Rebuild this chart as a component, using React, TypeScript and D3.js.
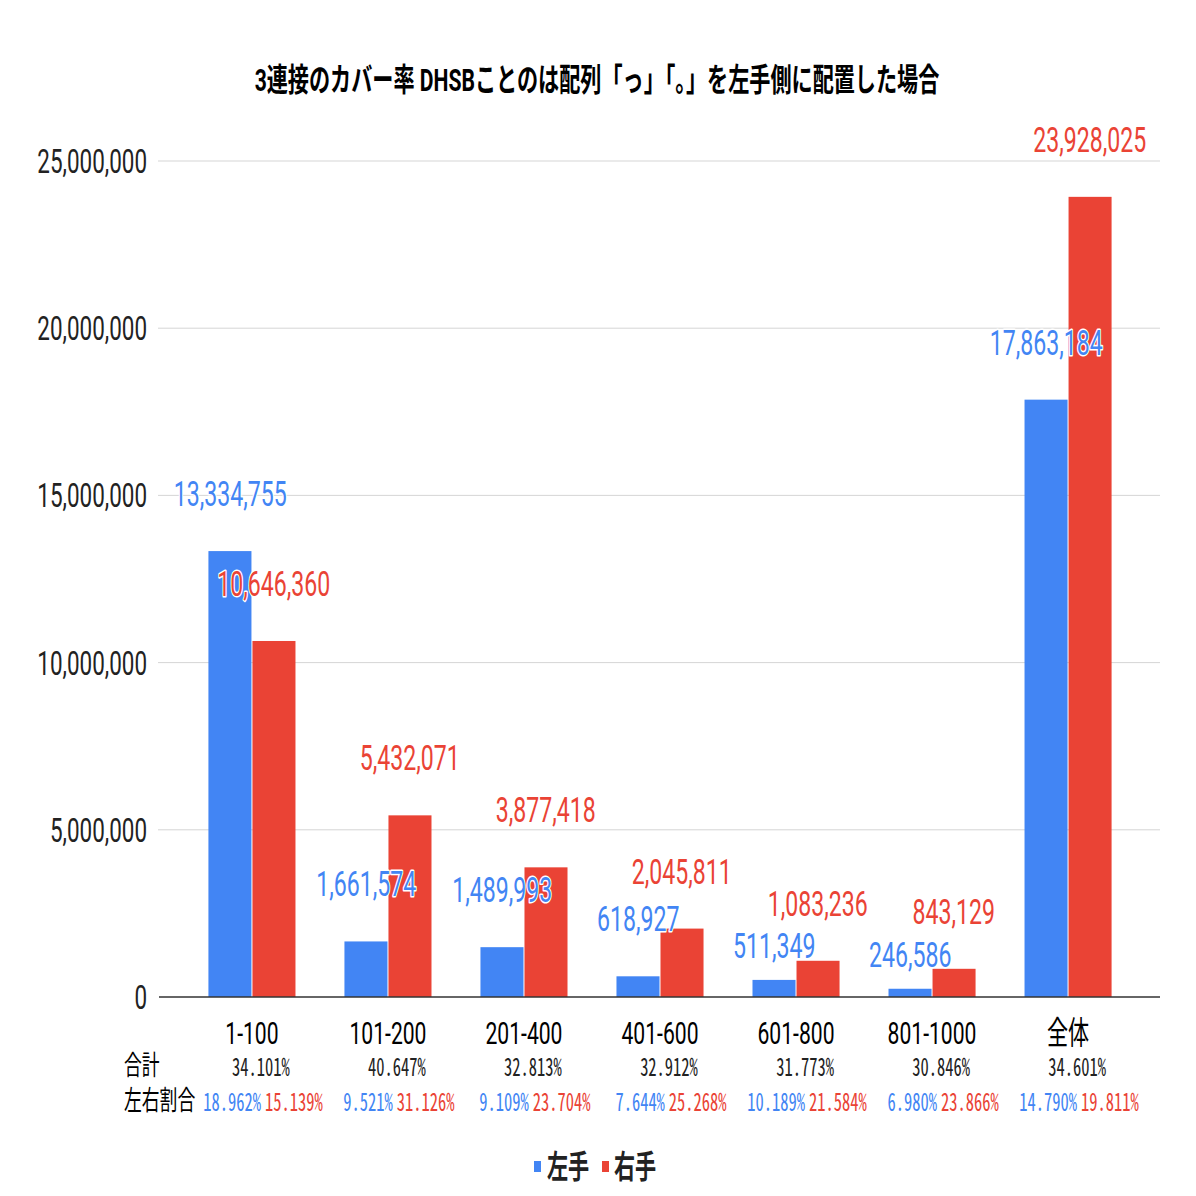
import * as d3 from 'd3'

const categories = ['1-100', '101-200', '201-400', '401-600', '601-800', '801-1000', '全体']
const leftHand = [13334755, 1661574, 1489993, 618927, 511349, 246586, 17863184]
const rightHand = [10646360, 5432071, 3877418, 2045811, 1083236, 843129, 23928025]
const totalRatio = ['34.101%', '40.647%', '32.813%', '32.912%', '31.773%', '30.846%', '34.601%']
const leftRatio = ['18.962%', '9.521%', '9.109%', '7.644%', '10.189%', '6.980%', '14.790%']
const rightRatio = ['15.139%', '31.126%', '23.704%', '25.268%', '21.584%', '23.866%', '19.811%']
const yTicks = [0, 5000000, 10000000, 15000000, 20000000, 25000000]
const seriesNames = ['左手', '右手']

const BLUE = '#4285F4'
const RED = '#EA4335'
// the picture is squashed horizontally, so draw in a wider space and squeeze it
const SX = 0.66
const W = 1196 / SX
const H = 1196
const px = (v: number) => v / SX
const FONT = "Roboto, 'Noto Sans CJK JP', sans-serif"
const PCT_FONT = "'Noto Sans Mono CJK JP', 'Noto Sans CJK JP', sans-serif"

export default function App() {
  const x = d3
    .scaleBand()
    .domain(categories)
    .range([px(160), px(1160)])
    .paddingInner(0.36)
    .paddingOuter(0.356)
  const sub = d3.scaleBand().domain(['l', 'r']).range([0, x.bandwidth()])
  const y = d3.scaleLinear().domain([0, 25000000]).range([997, 161])
  const fmt = d3.format(',')
  const halo = { paintOrder: 'stroke', stroke: '#fff', strokeWidth: 3, strokeLinejoin: 'round' as const }

  const bars = categories.flatMap((c, i) => [
    { c, key: 'l', v: leftHand[i], color: BLUE },
    { c, key: 'r', v: rightHand[i], color: RED },
  ])

  // label baseline: 45px above the bar; a blue label that would hit the red one drops closer to its bar
  const labelY = (b) => {
    const i = categories.indexOf(b.c)
    const above = y(b.v) - 45
    if (b.key === 'l') {
      const redY = y(rightHand[i]) - 45
      if (Math.abs(above - redY) < 32) return y(b.v) - 22
    }
    return above
  }

  return (
    <svg
      width={1196}
      height={H}
      viewBox={`0 0 ${W} ${H}`}
      preserveAspectRatio="none"
      style={{ position: 'absolute', left: 0, top: 0, background: '#fff' }}
      fontFamily={FONT}
    >
      <rect x={0} y={0} width={W} height={H} fill="#fff" />
      <text x={px(597)} y={91} textAnchor="middle" fontSize={32} fontWeight="bold" fill="#000">
        3連接のカバー率 DHSBことのは配列「っ」「。」を左手側に配置した場合
      </text>

      {/* grid + y axis */}
      {yTicks.map((t) => (
        <g key={t}>
          {t > 0 && <line x1={px(158)} x2={px(1160)} y1={y(t)} y2={y(t)} stroke="#cccccc" strokeWidth={1} />}
          <text x={px(147)} y={y(t) + 12} textAnchor="end" fontSize={34} fill="#222">
            {fmt(t)}
          </text>
        </g>
      ))}

      {/* bars */}
      {bars.map((b) => (
        <rect
          key={b.c + b.key}
          x={(x(b.c) as number) + (sub(b.key) as number) + (b.key === 'r' ? px(0.5) : 0)}
          y={y(b.v)}
          width={sub.bandwidth() - px(0.5)}
          height={y(0) - y(b.v)}
          fill={b.color}
        />
      ))}

      <line x1={px(159)} x2={px(1160)} y1={y(0)} y2={y(0)} stroke="#333" strokeWidth={1.5} />

      {/* data labels */}
      {bars.map((b) => (
        <text
          key={'t' + b.c + b.key}
          x={(x(b.c) as number) + (sub(b.key) as number) + sub.bandwidth() / 2}
          y={labelY(b)}
          textAnchor="middle"
          fontSize={35}
          fill={b.color}
          style={halo}
        >
          {fmt(b.v)}
        </text>
      ))}

      {/* category labels */}
      {categories.map((c, i) => {
        const cx = (x(c) as number) + x.bandwidth() / 2
        return (
          <g key={'c' + c}>
            <text x={cx} y={1044} textAnchor="middle" fontSize={32} fill="#000">
              {c}
            </text>
            <text x={cx + px(9)} y={1076} textAnchor="middle" fontSize={25} fill="#222" fontFamily={PCT_FONT}>
              {totalRatio[i]}
            </text>
            <text x={cx + px(11)} y={1111} textAnchor="middle" fontSize={25} fontFamily={PCT_FONT}>
              <tspan fill={BLUE}>{leftRatio[i]}</tspan>
              <tspan fill={RED} dx={px(4)}>
                {rightRatio[i]}
              </tspan>
            </text>
          </g>
        )
      })}
      <text x={px(124)} y={1075} fontSize={27} fill="#000">
        合計
      </text>
      <text x={px(124)} y={1110} fontSize={27} fill="#000">
        左右割合
      </text>

      {/* legend */}
      {seriesNames.map((s, i) => (
        <g key={s}>
          <rect x={px(534 + i * 68)} y={1161} width={px(7)} height={11} fill={i === 0 ? BLUE : RED} />
          <text x={px(547 + i * 67)} y={1178} fontSize={32} fontWeight="bold" fill="#222">
            {s}
          </text>
        </g>
      ))}
    </svg>
  )
}
